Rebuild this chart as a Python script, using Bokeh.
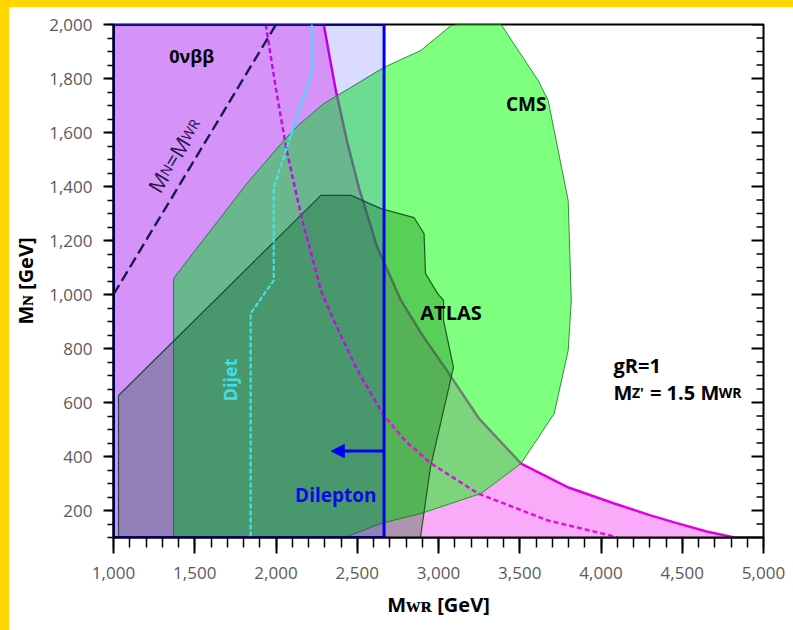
import math
from bokeh.plotting import figure
from bokeh.models import (Range1d, FixedTicker, NumeralTickFormatter,
                          Label, Arrow, NormalHead, Div)
from bokeh.layouts import column, row
from bokeh.embed import file_html
from bokeh.resources import INLINE

# ---------------------------------------------------------------- axes (GeV)
mwr_range = (1000, 5000)
mn_range = (100, 2000)
mwr_major = list(range(1000, 5001, 500))
mwr_minor = list(range(1000, 5001, 100))
mn_major = list(range(200, 2001, 200))
mn_minor = list(range(100, 2001, 50))
x_title = "Mᴡʀ [GeV]"
y_title = "Mɴ [GeV]"

# ---------------------------------------------------------------- 0vbb
# current exclusion boundary (solid) and future reach (dashed)
onbb_mwr = [2294, 2330, 2368, 2440, 2510, 2620, 2769, 2900, 3050, 3250,
            3508, 3800, 4082, 4300, 4451, 4650, 4821]
onbb_mn = [2000, 1880, 1756, 1560, 1396, 1180, 978, 850, 720, 540,
           374, 285, 226, 183, 156, 122, 100]
onbb_future_mwr = [1937, 2000, 2066, 2152, 2276, 2356, 2500, 2664, 2800,
                   2955, 3243, 3674, 4063, 4100]
onbb_future_mn = [2000, 1760, 1533, 1300, 1015, 904, 720, 552, 455,
                  374, 263, 163, 107, 100]

# ---------------------------------------------------------------- LHC searches
cms_mwr = [1370, 1370, 1826, 2048, 2134, 2294, 2461, 2664, 2892, 3077, 3120,
           3385, 3613, 3675, 3798, 3817, 3798, 3712, 3508, 3262, 2892, 2646, 2420]
cms_mn = [100, 1060, 1415, 1570, 1625, 1707, 1767, 1841, 1904, 1996, 2000,
          2000, 1793, 1718, 1348, 978, 793, 559, 374, 263, 189, 152, 100]

atlas_mwr = [1031, 1031, 2276, 2461, 2646, 2849, 2911, 2920, 2994, 3031,
             3031, 3092, 3055, 2950, 2889]
atlas_mn = [100, 626, 1367, 1367, 1318, 1285, 1226, 1078, 1004, 978,
            904, 730, 633, 359, 100]

# dijet resonance bound on Z' (solid part, then projected dashed part)
dijet_mwr = [2220, 2220, 2091]
dijet_mn = [2000, 1822, 1589]
dijet_proj_mwr = [2091, 1986, 1986, 1844, 1844]
dijet_proj_mn = [1589, 1396, 1052, 930, 100]

# dilepton bound: everything left of this M_WR is excluded
dilepton_mwr_limit = 2665
dilepton_arrow_mn = 420
dilepton_arrow_tip = 2340

# M_N = M_WR reference line
diag_mwr = [1000, 2000]
diag_mn = list(diag_mwr)

# ---------------------------------------------------------------- page geometry
BAND_TOP, BAND_LEFT = 7, 9
PAGE_W, PAGE_H = 793, 630
FRAME_L, FRAME_R, FRAME_T, FRAME_B = 113, 763, 24, 537
P_W, P_H = PAGE_W - BAND_LEFT, PAGE_H - BAND_TOP

FONT = "Open Sans"

p = figure(width=P_W, height=P_H,
           x_range=Range1d(*mwr_range), y_range=Range1d(*mn_range),
           output_backend="svg", toolbar_location=None,
           min_border_left=FRAME_L - BAND_LEFT, min_border_right=PAGE_W - FRAME_R,
           min_border_top=FRAME_T - BAND_TOP, min_border_bottom=PAGE_H - FRAME_B,
           background_fill_color="white", border_fill_color="white")
p.grid.visible = False
p.outline_line_color = "black"
p.outline_line_width = 2

xa = p.xaxis[0]
xa.ticker = FixedTicker(ticks=mwr_major, minor_ticks=mwr_minor)
xa.formatter = NumeralTickFormatter(format="0,0")
xa.major_tick_in, xa.major_tick_out = 0, 16
xa.minor_tick_in, xa.minor_tick_out = 0, 10
xa.major_label_standoff = 13
xa.axis_label = x_title
xa.axis_label_standoff = 9
ya = p.yaxis[0]
ya.ticker = FixedTicker(ticks=mn_major, minor_ticks=mn_minor)
ya.formatter = NumeralTickFormatter(format="0,0")
ya.major_tick_in, ya.major_tick_out = 0, 10
ya.minor_tick_in, ya.minor_tick_out = 0, 6
ya.major_label_standoff = 11
ya.axis_label = y_title
ya.axis_label_standoff = 7
for ax in (xa, ya):
    ax.axis_line_width = 2
    ax.axis_line_color = "black"
    ax.major_tick_line_width = 2
    ax.minor_tick_line_width = 1.5
    ax.major_label_text_font = FONT
    ax.major_label_text_font_size = "17px"
    ax.major_label_text_color = "#5a5a5a"
    ax.axis_label_text_font = FONT
    ax.axis_label_text_font_size = "20px"
    ax.axis_label_text_font_style = "bold"
    ax.axis_label_text_color = "black"


# page pixel -> data conversion inside the main frame
def gx(px):
    return mwr_range[0] + (px - FRAME_L) * (mwr_range[1] - mwr_range[0]) / (FRAME_R - FRAME_L)


def gy(py):
    return mn_range[0] + (FRAME_B - py) * (mn_range[1] - mn_range[0]) / (FRAME_B - FRAME_T)


# inward ticks along the right edge of the frame
mwr_per_px = (mwr_range[1] - mwr_range[0]) / (FRAME_R - FRAME_L)
right_major = list(mn_major)
right_minor = [t for t in mn_minor if t not in mn_major and t > mn_range[0]]
p.segment(x0=[mwr_range[1]] * len(right_major), y0=right_major,
          x1=[mwr_range[1] - 12 * mwr_per_px] * len(right_major), y1=right_major,
          line_color="black", line_width=2)
p.segment(x0=[mwr_range[1]] * len(right_minor), y0=right_minor,
          x1=[mwr_range[1] - 7 * mwr_per_px] * len(right_minor), y1=right_minor,
          line_color="black", line_width=1.5)

# ---------------------------------------------------------------- regions
p.patch([mwr_range[0], mwr_range[0]] + onbb_mwr, [mn_range[0], mn_range[1]] + onbb_mn,
        fill_color="#f9aaf9", line_color=None)
p.line(onbb_mwr, onbb_mn, line_color="#e000e0", line_width=2.5)

p.patch(cms_mwr, cms_mn, fill_color="#00ff00", fill_alpha=0.5,
        line_color="#2f8f2f", line_width=1)
p.patch(atlas_mwr, atlas_mn, fill_color="#006400", fill_alpha=0.3,
        line_color="#1d5a1d", line_width=1.2)

p.line(onbb_future_mwr, onbb_future_mn, line_color="#e010e0", line_width=2.5,
       line_dash="5 3")

p.quad(left=[mwr_range[0]], right=[dilepton_mwr_limit],
       bottom=[mn_range[0]], top=[mn_range[1]],
       fill_color="#0000ff", fill_alpha=0.14, line_color="#0000f0", line_width=3)

p.line(dijet_mwr, dijet_mn, line_color="#44dcf0", line_width=2)
p.line(dijet_proj_mwr, dijet_proj_mn, line_color="#44e6ee", line_width=2,
       line_dash="5 2")

p.line(diag_mwr, diag_mn, line_color="#1c1848", line_width=2.4, line_dash="11 5")

p.add_layout(Arrow(end=NormalHead(size=13, fill_color="#0000f0", line_color="#0000f0"),
                   x_start=dilepton_mwr_limit, y_start=dilepton_arrow_mn,
                   x_end=dilepton_arrow_tip, y_end=dilepton_arrow_mn,
                   line_color="#0000f0", line_width=3))

# ---------------------------------------------------------------- text helpers
EM_BOLD = {"M": 0.92, "N": 0.78, "W": 1.0, "R": 0.68, "Z": 0.62, "'": 0.3,
           "=": 0.57, "1": 0.57, ".": 0.29, "5": 0.57, " ": 0.26, "[": 0.34,
           "]": 0.34, "G": 0.72, "e": 0.59, "V": 0.63}
EM_REG = {"M": 0.90, "N": 0.75, "W": 0.93, "R": 0.61, "=": 0.57, " ": 0.26}


def text_width(s, size, bold):
    table = EM_BOLD if bold else EM_REG
    return sum(table.get(c, 0.6) for c in s) * size


def add_label(x, y, text, size, color="black", bold=True, angle=0.0,
              align="center", baseline="middle"):
    p.add_layout(Label(x=x, y=y, text=text, angle=angle,
                       text_font=FONT, text_font_size=f"{size}px",
                       text_font_style="bold" if bold else "normal",
                       text_color=color, text_align=align,
                       text_baseline=baseline))


def run(pieces, px, py, angle=0.0, color="black", bold=True):
    """Text pieces sharing one baseline, starting at page pixel (px, py)."""
    ux, uy = math.cos(angle), -math.sin(angle)
    off = 0.0
    for t, s in pieces:
        body = t.strip()
        off += (len(t) - len(t.lstrip())) * text_width(" ", s, bold)
        add_label(gx(px + ux * off), gy(py + uy * off), body, s, color=color,
                  bold=bold, angle=angle, align="left", baseline="alphabetic")
        off += text_width(body, s, bold)
        off += (len(t) - len(t.rstrip())) * text_width(" ", s, bold)


# ---------------------------------------------------------------- annotations
add_label(1481, 1885, "0νββ", 18)
add_label(3540, 1704, "CMS", 19)
add_label(3077, 933, "ATLAS", 20)
add_label(2368, 256, "Dilepton", 19, color="#0a0ae6")
add_label(1714, 684, "Dijet", 18, color="#3de0ea", angle=math.pi / 2)

run([("gR=1", 20)], 613, 365)
run([("M", 20), ("Z'", 14), (" = 1.5 M", 20), ("WR", 14)], 613, 392)

# M_N = M_WR, written along the dashed diagonal
diag_angle = math.atan2((FRAME_B - FRAME_T) / (mn_range[1] - mn_range[0]),
                        (FRAME_R - FRAME_L) / (mwr_range[1] - mwr_range[0]))
run([("M", 21), ("N", 14), ("=M", 21), ("WR", 14)], 153, 190,
    angle=diag_angle, color="#24124a", bold=False)

# ---------------------------------------------------------------- page
band = "#ffd600"
top_band = Div(width=PAGE_W, height=BAND_TOP, margin=0, styles={"background-color": band})
left_band = Div(width=BAND_LEFT, height=P_H, margin=0, styles={"background-color": band})
page = column(top_band, row(left_band, p, spacing=0), spacing=0)

open("out.html", "w").write(file_html(page, INLINE))
